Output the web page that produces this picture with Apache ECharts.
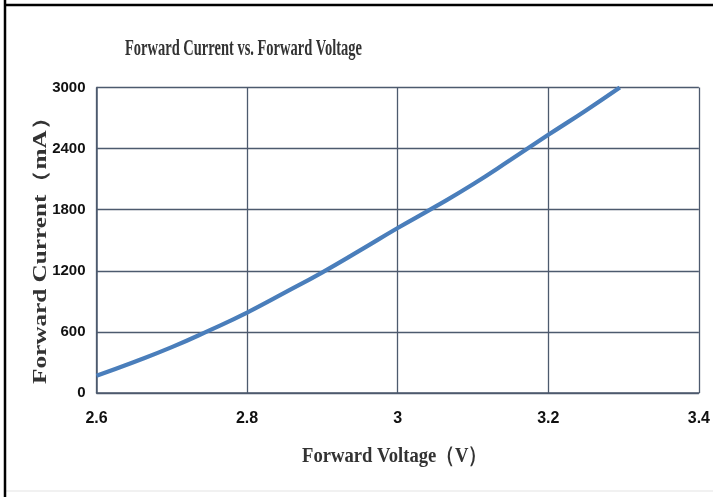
<!DOCTYPE html>
<html>
<head>
<meta charset="utf-8">
<script src="https://cdn.jsdelivr.net/npm/echarts@6/dist/echarts.min.js"></script>
<style>
html,body{margin:0;padding:0;background:#fff;}
#c{width:713px;height:497px;}
</style>
</head>
<body>
<div id="c"></div>
<script>
// ---- data ----
var titleText = 'Forward Current vs. Forward Voltage';
var xName = 'Forward Voltage（V）';
var yName = 'Forward Current（mA）';
var voltage = [2.6, 2.65, 2.7, 2.75, 2.8, 2.85, 2.9, 2.95, 3.0, 3.05, 3.1, 3.15, 3.2, 3.25, 3.295];
var current = [170, 305, 450, 615, 790, 985, 1185, 1400, 1620, 1830, 2050, 2290, 2535, 2775, 3000];
var xTickValues = [2.6, 2.8, 3.0, 3.2, 3.4];
var xTickLabels = ['2.6', '2.8', '3', '3.2', '3.4'];
var yTickValues = [0, 600, 1200, 1800, 2400, 3000];
var yTickLabels = ['0', '600', '1200', '1800', '2400', '3000'];

// ---- helpers ----
var mctx = document.createElement('canvas').getContext('2d');
function textWidth(t, font){ mctx.font = font; return mctx.measureText(t).width; }
function fitScale(t, font, target){ return target / textWidth(t, font); }

var gridColor = '#4d5a6e';
var serif = '"Liberation Serif", "Times New Roman", serif';
var titleFont = 'bold 23px ' + serif;
var xNameFont = 'bold 22px ' + serif;
var yNameFont = 'bold 19px ' + serif;

var pts = voltage.map(function(v, i){ return [v, current[i]]; });

function labelFrom(vals, labels){
  return function(v){
    for (var i = 0; i < vals.length; i++) if (Math.abs(vals[i] - v) < 1e-6) return labels[i];
    return '';
  };
}

var chart = echarts.init(document.getElementById('c'), null, {renderer:'canvas'});
chart.setOption({
  animation: false,
  backgroundColor: '#ffffff',
  grid: { left: 96.5, right: 10, top: 87.5, bottom: 104, containLabel: false },
  xAxis: {
    type: 'value', min: 2.6, max: 3.4, interval: 0.2,
    axisLine: { show: true, lineStyle: { color: gridColor, width: 1.5 } },
    axisTick: { show: false },
    splitLine: { show: true, lineStyle: { color: gridColor, width: 1.3 } },
    axisLabel: {
      margin: 18, color: '#111', fontFamily: '"Liberation Sans", Arial, sans-serif',
      fontWeight: 'bold', fontSize: 16, showMaxLabel: true, showMinLabel: true,
      formatter: labelFrom(xTickValues, xTickLabels)
    }
  },
  yAxis: {
    type: 'value', min: 0, max: 3000, interval: 600,
    axisLine: { show: true, lineStyle: { color: gridColor, width: 1.5 } },
    axisTick: { show: false },
    splitLine: { show: true, lineStyle: { color: gridColor, width: 1.3 } },
    axisLabel: {
      margin: 11, color: '#111', fontFamily: '"Liberation Sans Narrow", "Liberation Sans", sans-serif',
      fontWeight: 'bold', fontSize: 15,
      formatter: labelFrom(yTickValues, yTickLabels)
    }
  },
  series: [{
    type: 'line', data: pts, smooth: true, showSymbol: false,
    lineStyle: { color: '#4a7ebb', width: 4.2 },
    clip: true
  }],
  graphic: [
    { type: 'line', shape: { x1: 5, y1: 0, x2: 5, y2: 497 }, style: { stroke: '#000', lineWidth: 2.5 }, z: 10 },
    { type: 'line', shape: { x1: 4, y1: 5, x2: 713, y2: 5 }, style: { stroke: '#000', lineWidth: 2.5 }, z: 10 },
    { type: 'line', shape: { x1: 6, y1: 491, x2: 713, y2: 491 }, style: { stroke: '#ececec', lineWidth: 1.5 }, z: 9 },
    {
      type: 'text', x: 243.5, y: 49.5, scaleX: fitScale(titleText, titleFont, 237),
      style: { text: titleText, font: titleFont, fill: '#333', align: 'center', verticalAlign: 'middle' }
    },
    {
      type: 'text', x: 394.5, y: 456, scaleX: fitScale(xName, xNameFont, 185),
      style: { text: xName, font: xNameFont, fill: '#333', align: 'center', verticalAlign: 'middle' }
    },
    {
      type: 'text', x: 41, y: 244.5, rotation: Math.PI / 2, scaleX: fitScale(yName, yNameFont, 279),
      style: { text: yName, font: yNameFont, fill: '#333', align: 'center', verticalAlign: 'middle' }
    }
  ]
});
</script>
</body>
</html>
